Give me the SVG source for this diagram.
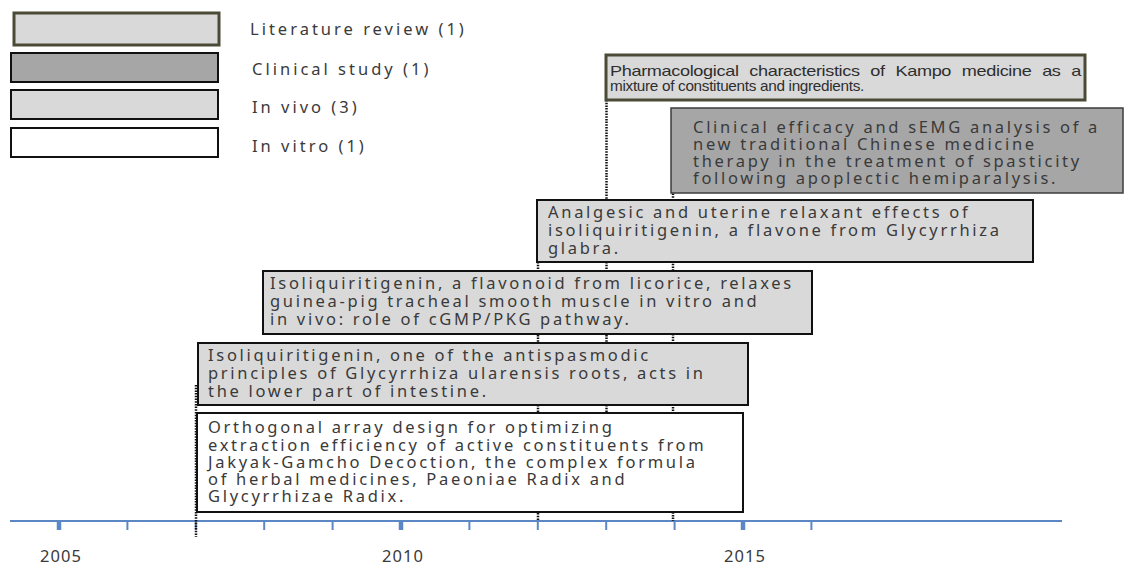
<svg xmlns="http://www.w3.org/2000/svg" width="1125" height="566" viewBox="0 0 1125 566">
<style>
.t{font-family:"Noto Sans","Open Sans",sans-serif;font-size:16.5px;fill:#3a3a3a;letter-spacing:2.7px}
.lg{font-family:"Noto Sans","Open Sans",sans-serif;font-size:16.5px;fill:#3a3a3a;letter-spacing:3px}
.yr{font-family:"Noto Sans","Open Sans",sans-serif;font-size:16.5px;fill:#3a3a3a;letter-spacing:1px}
.n{font-family:"Liberation Sans",sans-serif;font-size:15px;fill:#2e2e2e;letter-spacing:-0.3px}
.lt{fill:#d9d9d9;stroke:#111;stroke-width:2}
.dk{fill:#a6a6a6;stroke:#111;stroke-width:2}
.wh{fill:#fff;stroke:#111;stroke-width:2}
.rv{fill:#d9d9d9;stroke:#4a4a36;stroke-width:3}
.dot{stroke:#111;stroke-width:2.5;stroke-dasharray:1.5 1.2;fill:none}
.tk{stroke:#5b87c5;stroke-width:2}
.tkb{stroke:#5b87c5;stroke-width:4.5}
</style>
<rect width="1125" height="566" fill="#fff"/>
<g id="legend">
<rect class="rv" x="14" y="13" width="205" height="32"/>
<text class="lg" x="250" y="35">Literature review (1)</text>
<rect class="dk" x="11" y="53" width="207" height="29"/>
<text class="lg" x="252" y="75">Clinical study (1)</text>
<rect class="lt" x="11" y="90" width="207" height="29"/>
<text class="lg" x="252" y="113">In vivo (3)</text>
<rect class="wh" x="11" y="128" width="207" height="29"/>
<text class="lg" x="252" y="152">In vitro (1)</text>
</g>
<g id="axis">
<line x1="10" y1="521" x2="1062" y2="521" stroke="#5b87c5" stroke-width="2"/>
<line class="tkb" x1="59" y1="521" x2="59" y2="530"/>
<line class="tk" x1="127.4" y1="521" x2="127.4" y2="530"/>
<line class="tk" x1="195.8" y1="521" x2="195.8" y2="530"/>
<line class="tk" x1="264.2" y1="521" x2="264.2" y2="530"/>
<line class="tk" x1="332.6" y1="521" x2="332.6" y2="530"/>
<line class="tkb" x1="401" y1="521" x2="401" y2="530"/>
<line class="tk" x1="469.4" y1="521" x2="469.4" y2="530"/>
<line class="tk" x1="537.8" y1="521" x2="537.8" y2="530"/>
<line class="tk" x1="606.2" y1="521" x2="606.2" y2="530"/>
<line class="tk" x1="674.6" y1="521" x2="674.6" y2="530"/>
<line class="tkb" x1="743" y1="521" x2="743" y2="530"/>
<line class="tk" x1="811.4" y1="521" x2="811.4" y2="530"/>
<text class="yr" x="61" y="562" text-anchor="middle">2005</text>
<text class="yr" x="403" y="562" text-anchor="middle">2010</text>
<text class="yr" x="745" y="562" text-anchor="middle">2015</text>
</g>
<g id="connectors">
<line class="dot" x1="196" y1="385" x2="196" y2="537"/>
<line class="dot" x1="538" y1="262" x2="538" y2="521"/>
<line class="dot" x1="606.5" y1="100" x2="606.5" y2="413"/>
<line class="dot" x1="673" y1="145" x2="673" y2="521"/>
</g>
<g id="node-kampo">
<rect class="rv" x="606" y="55" width="479" height="45"/>
<text class="n" x="610" y="76" word-spacing="5" textLength="471" lengthAdjust="spacingAndGlyphs">Pharmacological characteristics of Kampo medicine as a</text>
<text class="n" x="610" y="91" textLength="254" lengthAdjust="spacingAndGlyphs">mixture of constituents and ingredients.</text>
</g>
<g id="node-clinical">
<rect x="671" y="108" width="452" height="85" fill="#a6a6a6" stroke="#3c3c3c" stroke-width="1.5"/>
<text class="t" x="693" y="133">Clinical efficacy and sEMG analysis of a</text>
<text class="t" x="693" y="150">new traditional Chinese medicine</text>
<text class="t" x="693" y="167">therapy in the treatment of spasticity</text>
<text class="t" x="693" y="184">following apoplectic hemiparalysis.</text>
</g>
<g id="node-analgesic">
<rect class="lt" x="537" y="200" width="496" height="62"/>
<text class="t" x="548" y="218">Analgesic and uterine relaxant effects of</text>
<text class="t" x="548" y="236">isoliquiritigenin, a flavone from Glycyrrhiza</text>
<text class="t" x="548" y="254">glabra.</text>
</g>
<g id="node-tracheal">
<rect class="lt" x="263" y="271" width="549" height="63"/>
<text class="t" x="270" y="289">Isoliquiritigenin, a flavonoid from licorice, relaxes</text>
<text class="t" x="270" y="307">guinea-pig tracheal smooth muscle in vitro and</text>
<text class="t" x="270" y="325">in vivo: role of cGMP/PKG pathway.</text>
</g>
<g id="node-intestine">
<rect class="lt" x="198" y="343" width="550" height="62"/>
<text class="t" x="208" y="361">Isoliquiritigenin, one of the antispasmodic</text>
<text class="t" x="208" y="379">principles of Glycyrrhiza ularensis roots, acts in</text>
<text class="t" x="208" y="397">the lower part of intestine.</text>
</g>
<g id="node-orthogonal">
<rect class="wh" x="197" y="413" width="546" height="99"/>
<text class="t" x="208" y="433">Orthogonal array design for optimizing</text>
<text class="t" x="208" y="451">extraction efficiency of active constituents from</text>
<text class="t" x="208" y="468">Jakyak-Gamcho Decoction, the complex formula</text>
<text class="t" x="208" y="485">of herbal medicines, Paeoniae Radix and</text>
<text class="t" x="208" y="502">Glycyrrhizae Radix.</text>
</g>
</svg>
